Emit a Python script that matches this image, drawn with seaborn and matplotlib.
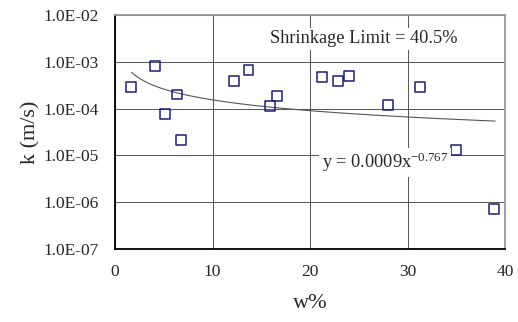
import numpy as np
import pandas as pd
import matplotlib
matplotlib.use("Agg")
import matplotlib.pyplot as plt
import seaborn as sns

w_pct = [1.6, 4.1, 5.1, 6.4, 6.8, 12.2, 13.7, 15.9, 16.6, 21.2, 22.9, 24.0, 28.0, 31.3, 35.0, 38.9]
k_ms = [2.9e-4, 8.2e-4, 7.7e-5, 2.0e-4, 2.1e-5, 3.9e-4, 6.6e-4, 1.15e-4, 1.9e-4,
        4.8e-4, 3.9e-4, 4.9e-4, 1.2e-4, 2.95e-4, 1.3e-5, 7.0e-7]
fit_coef = 0.0009
fit_exp = -0.767
fit_range = [1.7, 39.0]
y_ticks = [1e-7, 1e-6, 1e-5, 1e-4, 1e-3, 1e-2]
y_tick_labels = ["1.0E-07", "1.0E-06", "1.0E-05", "1.0E-04", "1.0E-03", "1.0E-02"]
x_ticks = [0, 10, 20, 30, 40]

sns.set_style("white")
plt.rcParams['font.family'] = ['Liberation Serif', 'DejaVu Serif']
plt.rcParams['mathtext.fontset'] = 'custom'
plt.rcParams['mathtext.rm'] = 'Liberation Serif'
plt.rcParams['mathtext.it'] = 'Liberation Serif:italic'
plt.rcParams['mathtext.default'] = 'rm'

df = pd.DataFrame({"w": w_pct, "k": k_ms})
xf = np.linspace(fit_range[0], fit_range[1], 200)
fit = pd.DataFrame({"w": xf, "k": fit_coef * xf ** fit_exp})

fig = plt.figure(figsize=(5.18, 3.22), dpi=100)
ax = fig.add_axes([0.222, 0.227, 0.753, 0.726])
ax.set_yscale("log")
ax.set_xlim(0, 40)
ax.set_ylim(1e-7, 1e-2)

ax.grid(True, which="major", color="#5a5a5a", linewidth=0.75)
ax.set_axisbelow(True)

sns.lineplot(data=fit, x="w", y="k", ax=ax, color="#555555", linewidth=0.8, zorder=2)
sns.scatterplot(data=df, x="w", y="k", ax=ax, marker="s", s=50,
                facecolor="none", edgecolor="#1c1c78", linewidth=1.1, zorder=3)

ax.set_xticks(x_ticks)
ax.set_xticklabels([str(t) for t in x_ticks], fontsize=12.5)
ax.set_yticks(y_ticks)
ax.set_yticklabels(y_tick_labels, fontsize=12.5)
ax.minorticks_off()
ax.tick_params(axis="y", length=0, pad=12)
ax.tick_params(axis="x", length=0, pad=11)

ax.set_xlabel("w%", fontsize=16, labelpad=10)
ax.set_ylabel("k (m/s)", fontsize=16, labelpad=2)

for side in ["left", "bottom"]:
    ax.spines[side].set_color("black")
    ax.spines[side].set_linewidth(1.3)
for side in ["top", "right"]:
    ax.spines[side].set_color("#999999")
    ax.spines[side].set_linewidth(1.3)

ax.text(25.5, 10 ** -2.51, "Shrinkage Limit = 40.5%", fontsize=13.2, ha="center", va="center",
        bbox=dict(facecolor="white", edgecolor="none", pad=2), zorder=4)
ax.text(21.2, 10 ** -5.15, r"y = 0.0009x$^{-0.767}$", fontsize=13.2, ha="left", va="center",
        bbox=dict(facecolor="white", edgecolor="none", pad=2), zorder=4)

fig.savefig("out.png", dpi=100)
